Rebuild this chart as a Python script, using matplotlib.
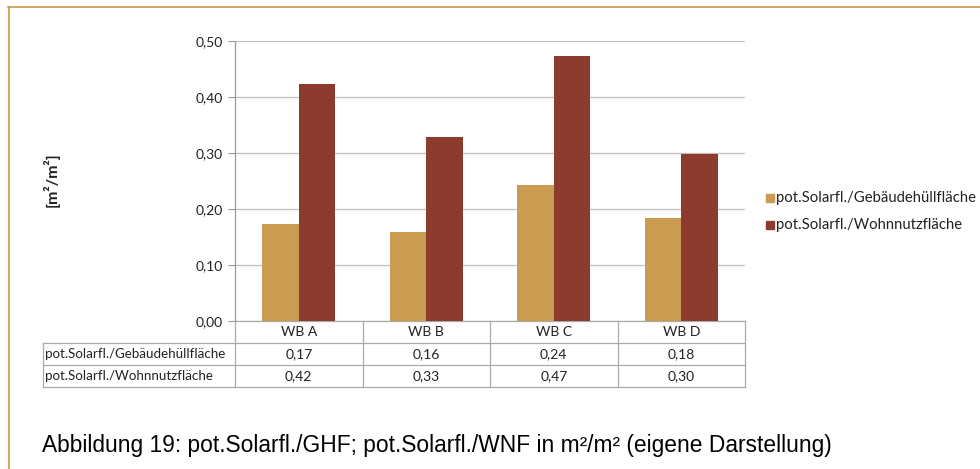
import matplotlib
matplotlib.use("Agg")
import matplotlib.pyplot as plt
import matplotlib.transforms as mtransforms
from matplotlib.lines import Line2D
from matplotlib.patches import Rectangle
import numpy as np

categories = ["WB A", "WB B", "WB C", "WB D"]
series_names = ["pot.Solarfl./Gebäudehüllfläche", "pot.Solarfl./Wohnnutzfläche"]
ghf_values = [0.174, 0.159, 0.243, 0.184]
wnf_values = [0.424, 0.329, 0.473, 0.299]
ghf_labels = ["0,17", "0,16", "0,24", "0,18"]
wnf_labels = ["0,42", "0,33", "0,47", "0,30"]
yticks = [0.0, 0.1, 0.2, 0.3, 0.4, 0.5]
ytick_labels = ["0,00", "0,10", "0,20", "0,30", "0,40", "0,50"]
caption = "Abbildung 19: pot.Solarfl./GHF; pot.Solarfl./WNF in m²/m² (eigene Darstellung)"

c_tan = "#C99C52"
c_red = "#8E3B2F"
c_grid = "#BFBFBF"
c_border = "#CC9944"
chart_font = ["Lato", "DejaVu Sans"]

W, H = 980, 469
fig = plt.figure(figsize=(W / 100, H / 100), dpi=100)

def fx(px):
    return px / W

def fy(py):
    return 1 - py / H

# page border lines
fig.add_artist(Line2D([fx(8), fx(980)], [fy(7.5), fy(7.5)], color=c_border, lw=1.2))
fig.add_artist(Line2D([fx(8.5), fx(8.5)], [fy(7.5), fy(469)], color=c_border, lw=1.2))

ax_l, ax_r, ax_t, ax_b = 235, 745, 41, 321
ax = fig.add_axes([fx(ax_l), fy(ax_b), fx(ax_r - ax_l), (ax_b - ax_t) / H])

x = np.arange(len(categories))
bw = 0.285
ax.bar(x - bw / 2, ghf_values, width=bw, color=c_tan, label=series_names[0], zorder=3)
ax.bar(x + bw / 2, wnf_values, width=bw, color=c_red, label=series_names[1], zorder=3)

ax.set_xlim(-0.5, len(categories) - 0.5)
ax.set_ylim(0, 0.5)
ax.set_yticks(yticks)
ax.set_yticklabels(ytick_labels, fontsize=10, family=chart_font, color="#222222")
ax.set_xticks([])
ax.tick_params(axis="y", length=5, color="#999999", pad=4)
ax.yaxis.grid(True, color=c_grid, lw=0.9, zorder=0)
for s in ["top", "right", "bottom"]:
    ax.spines[s].set_visible(False)
ax.spines["left"].set_color("#999999")
ax.spines["left"].set_linewidth(0.9)

fig.text(fx(51), fy(180), "[m²/m²]", rotation=90, ha="center", va="center",
         fontsize=11.5, family=chart_font, fontweight="bold", color="#222222")

# data table below axis
trans = mtransforms.blended_transform_factory(ax.transData, fig.transFigure)
fig_trans = fig.transFigure
row_edges = [321, 343, 365, 387]
tcol = "#AAAAAA"
bounds = np.arange(len(categories) + 1) - 0.5
ax.add_line(Line2D([bounds[0], bounds[-1]], [fy(row_edges[0])] * 2, transform=trans,
                   color=tcol, lw=0.9, clip_on=False))
for r in row_edges[1:]:
    fig.add_artist(Line2D([fx(43), fx(ax_r)], [fy(r), fy(r)], color=tcol, lw=0.9))
for b in bounds:
    ax.add_line(Line2D([b, b], [fy(row_edges[0]), fy(row_edges[-1])], transform=trans,
                       color=tcol, lw=0.9, clip_on=False))
fig.add_artist(Line2D([fx(43), fx(43)], [fy(row_edges[1]), fy(row_edges[-1])], color=tcol, lw=0.9))

rows = [categories, ghf_labels, wnf_labels]
for ri, vals in enumerate(rows):
    yc = fy((row_edges[ri] + row_edges[ri + 1]) / 2)
    for ci, v in enumerate(vals):
        ax.text(ci, yc, v, transform=trans, ha="center", va="center", fontsize=10,
                family=chart_font, color="#222222")
for ri, name in enumerate(series_names):
    yc = fy((row_edges[ri + 1] + row_edges[ri + 2]) / 2)
    fig.text(fx(45), yc, name, ha="left", va="center", fontsize=9.6,
             family=chart_font, color="#222222")

# legend
for i, (name, col) in enumerate(zip(series_names, [c_tan, c_red])):
    yc = 198 + i * 27
    fig.add_artist(Rectangle((fx(766), fy(yc + 4)), fx(8), 8 / H, color=col,
                             transform=fig_trans))
    fig.text(fx(776), fy(yc), name, ha="left", va="center", fontsize=10.7,
             family=chart_font, color="#222222")

fig.text(fx(42), fy(452), caption, ha="left", va="baseline", fontsize=16.4,
         family=["Liberation Sans", "DejaVu Sans"], color="#000000")

fig.savefig("out.png", dpi=100)
